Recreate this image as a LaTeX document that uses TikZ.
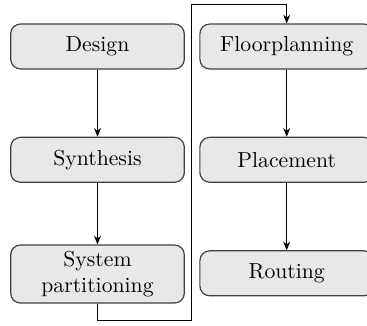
\documentclass[tikz,border=0pt]{standalone}
\usetikzlibrary{arrows.meta}
\begin{document}
\begin{tikzpicture}[x=0.4608pt,y=-0.4608pt,
  stepbox/.style={draw=black!75,fill=gray!18,line width=0.55pt,rounded corners=4.5pt,
    minimum width=80pt,minimum height=20.7pt,align=center,inner xsep=1pt,inner ysep=2.8pt,font=\normalsize},
  conn/.style={line width=0.4pt,-{Stealth[length=4pt,width=3.2pt]}}]
\useasboundingbox (0,0) rectangle (367,325);
\node[stepbox] (design) at (97.5,46.5) {Design};
\node[stepbox] (synth) at (97.5,159.8) {Synthesis};
\node[stepbox] (part) at (97.5,274) {System\\partitioning};
\node[stepbox] (floor) at (286.7,46.5) {Floorplanning};
\node[stepbox] (place) at (286.7,159.8) {Placement};
\node[stepbox] (route) at (286.7,273.3) {Routing};
\coordinate (c1) at (97.5,320.7);
\coordinate (c2) at (191.7,320.7);
\coordinate (c3) at (191.7,4.5);
\coordinate (c4) at (286.7,4.5);
\draw[conn] (design) -- (synth);
\draw[conn] (synth) -- (part);
\draw[conn] (floor) -- (place);
\draw[conn] (place) -- (route);
\draw[conn] (part.south) -- (c1) -- (c2) -- (c3) -- (c4) -- (floor.north);
\end{tikzpicture}
\end{document}
